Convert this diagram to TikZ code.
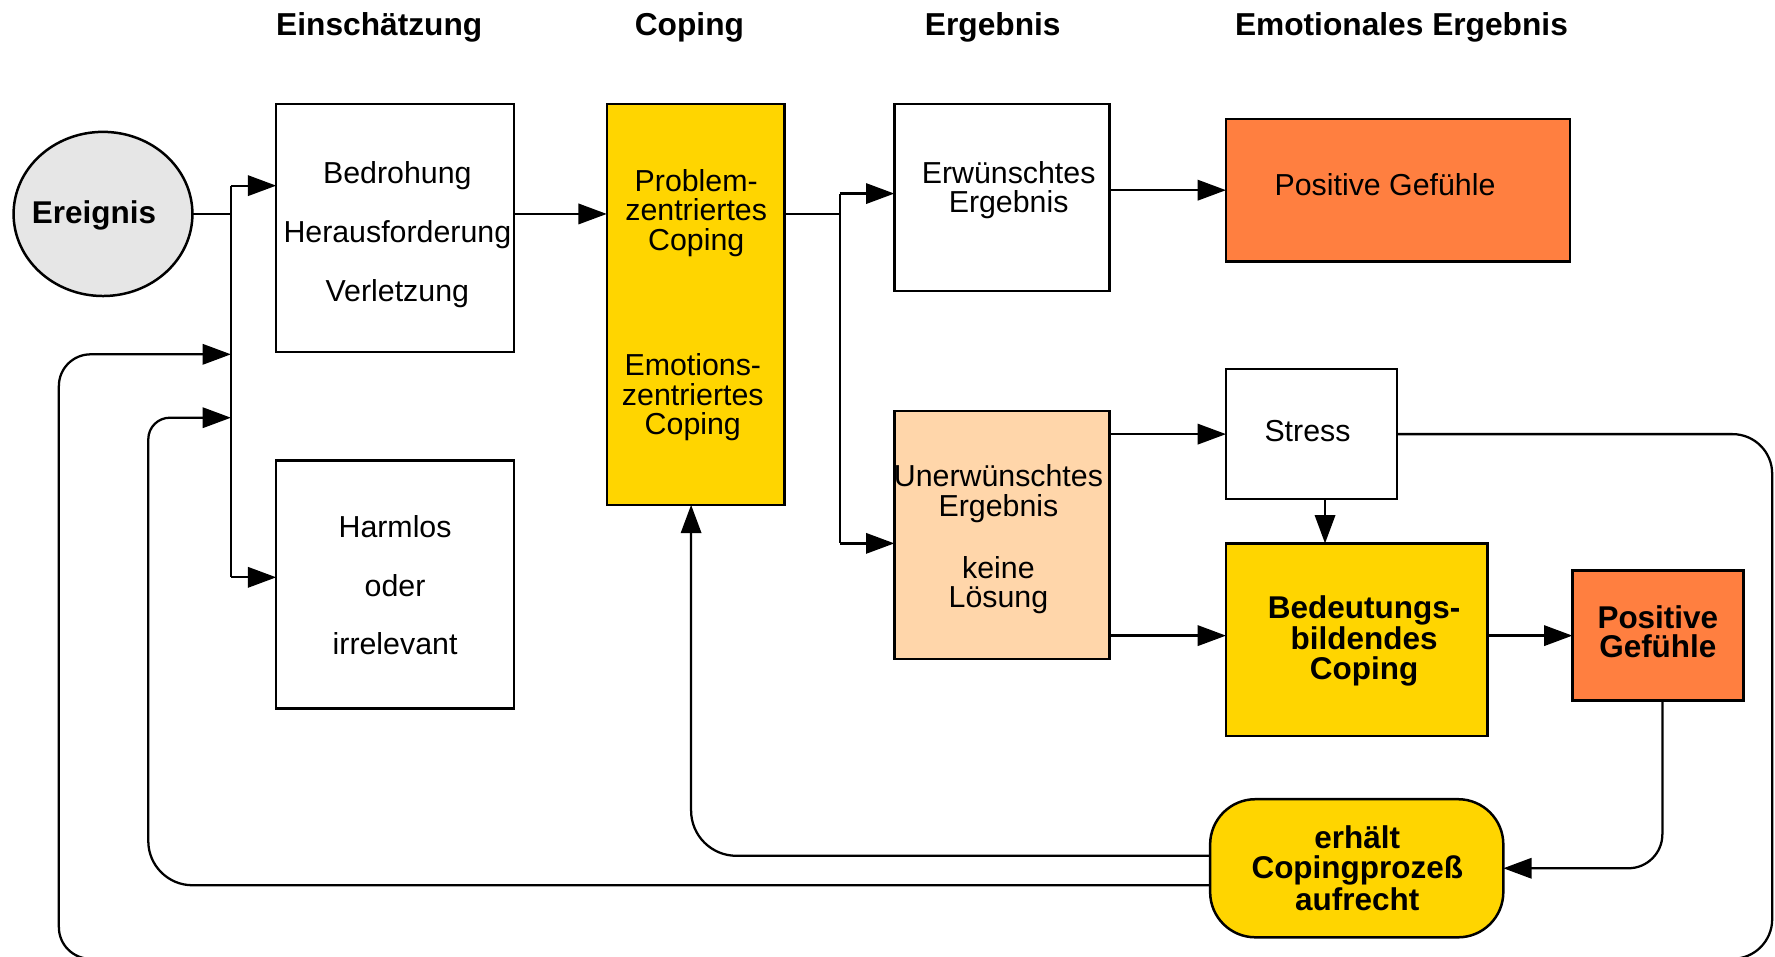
\documentclass[tikz,border=0pt]{standalone}
\usepackage{fontspec}
\setmainfont{Liberation Sans}
\usetikzlibrary{arrows.meta,shapes.geometric}
\definecolor{cgold}{HTML}{FFD500}
\definecolor{corange}{HTML}{FF7F40}
\definecolor{cpeach}{HTML}{FFD6AA}
\definecolor{cgray}{HTML}{E6E6E6}
\tikzset{
  box/.style={draw, line width=1.1pt, inner sep=0pt, outer sep=0pt},
  ln/.style={line width=1pt},
  arr/.style={line width=1pt, -{Triangle[length=12.5pt,width=9pt]}},
  txt/.style={font=\fontsize{13.4}{13}\selectfont, align=center, inner sep=0pt},
  wtxt/.style={font=\fontsize{13.4}{26}\selectfont, align=center, inner sep=0pt},
  btxt/.style={font=\bfseries\fontsize{13.9}{13}\selectfont, align=center, inner sep=0pt},
  htxt/.style={font=\bfseries\fontsize{14}{14}\selectfont, inner sep=0pt},
}
\begin{document}
\begin{tikzpicture}[x=0.5pt,y=-0.5pt]
\useasboundingbox (0,0) rectangle (1568,845);
\clip (0,0) rectangle (1568,845);

% headers
\node[htxt] (h1) at (335,24) {Einschätzung};
\node[htxt] (h2) at (609,24) {Coping};
\node[htxt] (h3) at (877,24) {Ergebnis};
\node[htxt] (h4) at (1238,24) {Emotionales Ergebnis};

% boxes
\node[box, ellipse, fill=cgray, minimum width=79pt, minimum height=72.5pt] (ev) at (91,189) {};
\node[btxt] (evt) at (83,190) {Ereignis};

\node[box, fill=white, minimum width=105pt, minimum height=109.5pt] (bed) at (349,201.5) {};
\node[wtxt] (bedt) at (351,207) {Bedrohung\\Herausforderung\\Verletzung};

\node[box, fill=white, minimum width=105pt, minimum height=109.5pt] (harm) at (349,516.5) {};
\node[wtxt] (harmt) at (349,517) {Harmlos\\oder\\irrelevant};

\node[box, fill=cgold, minimum width=78.5pt, minimum height=177pt] (cop) at (614.5,269) {};
\node[txt] (copt1) at (615,188) {Problem-\\zentriertes\\Coping};
\node[txt] (copt2) at (612,351) {Emotions-\\zentriertes\\Coping};

\node[box, fill=white, minimum width=95pt, minimum height=82.5pt] (erw) at (885,174.5) {};
\node[txt] (erwt) at (891,168) {Erwünschtes\\Ergebnis};

\node[box, fill=corange, minimum width=152pt, minimum height=63pt] (pg1) at (1235,168) {};
\node[txt] (pg1t) at (1223.5,163) {Positive Gefühle};

\node[box, fill=white, minimum width=75.5pt, minimum height=57.5pt] (str) at (1158.5,383.5) {};
\node[txt] (strt) at (1155,381) {Stress};

\node[box, fill=cpeach, minimum width=95pt, minimum height=109.5pt] (unw) at (885,472.5) {};
\node[txt] (unwt) at (882,476.5) {Unerwünschtes\\Ergebnis\\[14.5pt]keine\\Lösung};

\node[box, fill=cgold, minimum width=115.5pt, minimum height=85pt] (bcop) at (1198.5,565) {};
\node[btxt] (bcopt) at (1205,566) {Bedeutungs-\\bildendes\\Coping};

\node[box, fill=corange, minimum width=75.5pt, minimum height=57.5pt] (pg2) at (1464.5,561.5) {};
\node[btxt] (pg2t) at (1464.5,558) {Positive\\Gefühle};

\node[box, fill=cgold, rounded corners=20pt, minimum width=129.5pt, minimum height=61pt] (erh) at (1198.5,767) {};
\node[btxt] (erht) at (1199,767) {erhält\\Copingprozeß\\aufrecht};

% junction coordinates
\coordinate (t1) at (204,164);
\coordinate (t2) at (204,510);
\coordinate (t3) at (742,171);
\coordinate (t4) at (742,480);
\coordinate (t5) at (204,369);
\coordinate (t6) at (204,313);

% connectors
\draw[ln] (ev.east) -- (ev.east -| t1);
\draw[ln] (t1) -- (t2);
\draw[arr] (t1) -- (t1 -| bed.west);
\draw[arr] (t2) -- (t2 -| harm.west);
\draw[arr] (bed.east |- ev.east) -- (cop.west |- ev.east);
\draw[ln] (cop.east |- ev.east) -- (t3 |- ev.east);
\draw[ln] (t3) -- (t4);
\draw[arr] (t3) -- (t3 -| erw.west);
\draw[arr] (t4) -- (t4 -| unw.west);
\draw[arr] (erw.east |- pg1.west) -- (pg1.west);
\draw[arr] (unw.east |- str.west) -- (str.west);
\draw[arr] (unw.east |- pg2.west) -- (bcop.west |- pg2.west);
\draw[arr] ([xshift=6pt]str.south) -- ([xshift=6pt]str.south |- bcop.north);
\draw[arr] (bcop.east |- pg2.west) -- (pg2.west);
\draw[arr, rounded corners=15pt] ([xshift=2pt]pg2.south) |- (erh.east);
\draw[arr, rounded corners=20pt] ([yshift=5.5pt]erh.west) -| ([xshift=-2pt]cop.south);
\draw[arr] ([yshift=-7.5pt]erh.west) -- (170,782)
  arc[start angle=270,end angle=180,radius=19.5pt] -- (131,388)
  arc[start angle=180,end angle=90,radius=9.5pt] -- (t5);
\draw[arr] (str.east) -- (1530.5,383.5)
  arc[start angle=90,end angle=0,radius=17.5pt] -- (1565.5,812)
  arc[start angle=0,end angle=-90,radius=17.5pt] -- (80,847)
  arc[start angle=270,end angle=180,radius=14pt] -- (52,341)
  arc[start angle=180,end angle=90,radius=14pt] -- (t6);
\end{tikzpicture}
\end{document}
